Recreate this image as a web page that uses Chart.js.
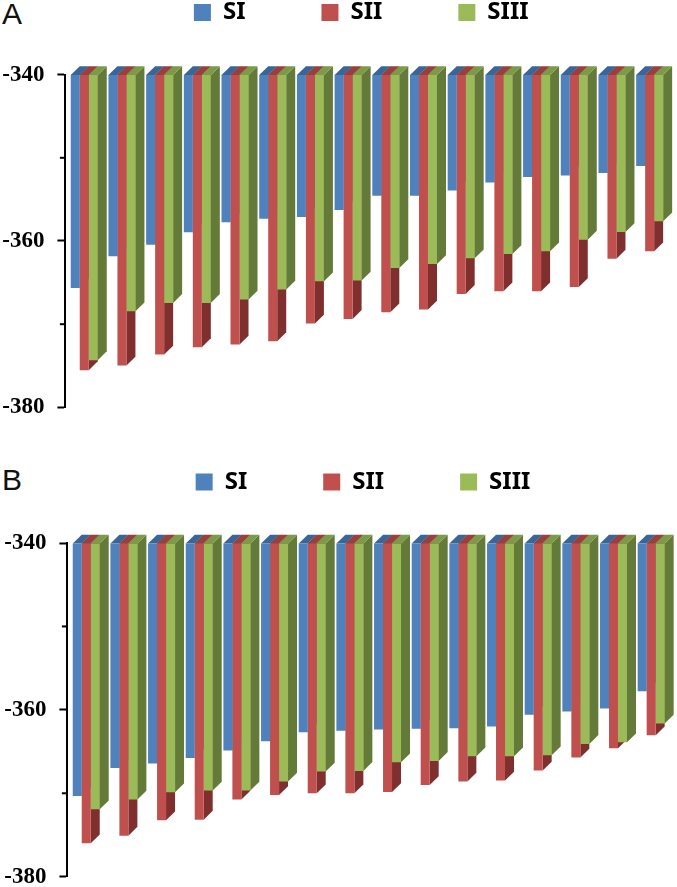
<!DOCTYPE html>
<html>
<head>
<meta charset="utf-8">
<script src="https://cdn.jsdelivr.net/npm/chart.js@4/dist/chart.umd.min.js"></script>
<style>
html,body{margin:0;padding:0;background:#fff;}
#page{position:relative;width:677px;height:887px;overflow:hidden;}
canvas{position:absolute;left:0;}
.tag{position:absolute;left:2px;font:30px/30px "Liberation Sans",sans-serif;color:#111;}
</style>
</head>
<body>
<div id="page">
<div class="tag" style="top:-1px">A</div>
<div class="tag" style="top:465px">B</div>
<canvas id="a" width="677" height="440" style="top:0"></canvas>
<canvas id="b" width="677" height="470" style="top:460px"></canvas>
</div>
<script>
const categories = ["1","2","3","4","5","6","7","8","9","10","11","12","13","14","15","16"];
const seriesNames = ["SI","SII","SIII"];
const tickLabels = [-340,-360,-380];
const minorTicks = [-350,-370];
const baseValue = -340;

const aSI   = [-365.64,-361.84,-360.44,-358.96,-357.76,-357.32,-357.12,-356.28,-354.56,-354.56,-353.92,-352.96,-352.32,-352.12,-351.84,-351.0];
const aSII  = [-375.52,-374.96,-373.64,-372.76,-372.44,-372.04,-369.92,-369.36,-368.56,-368.24,-366.36,-366.04,-366.04,-365.52,-362.12,-361.24];
const aSIII = [-374.32,-368.44,-367.44,-367.44,-367.04,-365.84,-364.84,-364.76,-363.24,-362.76,-362.08,-361.56,-361.24,-359.84,-358.92,-357.64];

const bSI   = [-370.32,-366.96,-366.44,-365.76,-364.88,-363.76,-362.68,-362.52,-362.36,-362.28,-362.2,-362.0,-360.6,-360.2,-359.84,-357.76];
const bSII  = [-376.0,-375.08,-373.24,-373.16,-370.76,-370.2,-370.0,-370.0,-369.84,-369.0,-368.6,-368.48,-367.28,-365.72,-364.6,-363.04];
const bSIII = [-371.92,-370.76,-369.88,-369.68,-369.68,-368.6,-367.4,-367.32,-366.28,-366.12,-365.56,-365.56,-365.44,-364.08,-363.88,-361.64];

const frontColors = ["#4F81BD","#C0504D","#9BBB59"];
const sideColors  = ["#3A6090","#7F2F2D","#647A38"];
const topColors   = ["#3A6597","#99403D","#7C9A47"];
const DX = 9, DY = 8.8;

const depthPlugin = {
  id: "depth",
  beforeDatasetsDraw(chart){
    const ctx = chart.ctx;
    chart.data.datasets.forEach((ds,k)=>{
      const meta = chart.getDatasetMeta(k);
      meta.data.forEach(bar=>{
        const x0 = bar.x - bar.width/2, x1 = bar.x + bar.width/2;
        const yT = bar.base, yB = bar.y;
        ctx.fillStyle = sideColors[k];
        ctx.beginPath();
        ctx.moveTo(x1,yT);ctx.lineTo(x1+DX,yT-DY);ctx.lineTo(x1+DX,yB-DY);ctx.lineTo(x1,yB);
        ctx.closePath();ctx.fill();
        ctx.fillStyle = topColors[k];
        ctx.beginPath();
        ctx.moveTo(x0,yT);ctx.lineTo(x1,yT);ctx.lineTo(x1+DX,yT-DY);ctx.lineTo(x0+DX,yT-DY);
        ctx.closePath();ctx.fill();
      });
    });
  },
  afterDraw(chart){
    const y = chart.scales.y, ctx = chart.ctx;
    ctx.strokeStyle = "#000"; ctx.lineWidth = 2;
    minorTicks.forEach(v=>{
      const p = y.getPixelForValue(v);
      ctx.beginPath();ctx.moveTo(chart.chartArea.left-5.5,p);ctx.lineTo(chart.chartArea.left,p);ctx.stroke();
    });
  }
};

function makeChart(id, s1, s2, s3, L){
  const legendPad = L.pad;
  const legendPlugin = {
    id:"legendPlace",
    beforeLayout(chart){
      const lg = chart.legend;
      if(!lg._fitWrapped){
        const fit = lg.fit;
        lg.fit = function(){ fit.call(this); this.height = L.top; };
        lg._fitWrapped = true;
      }
    },
    afterLayout(chart){
      const lg = chart.legend;
      lg.left += 2*L.shift;
      lg.top = L.boxY - legendPad;
    }
  };
  return new Chart(document.getElementById(id),{
    type:"bar",
    data:{
      labels:categories,
      datasets:[s1,s2,s3].map((v,i)=>({
        label:seriesNames[i], data:v, backgroundColor:frontColors[i], base:baseValue,
        barPercentage:1, categoryPercentage:27/37.7
      }))
    },
    plugins:[depthPlugin,legendPlugin],
    options:{
      responsive:false, animation:false,
      layout:{padding:{left:0,top:0,right:677-L.right,bottom:L.bottom}},
      plugins:{
        tooltip:{enabled:false},
        legend:{display:true,position:"top",
          labels:{boxWidth:17,boxHeight:17,padding:legendPad,color:"#000",
            font:{family:"'Noto Sans'",size:24,weight:"bold"}}}
      },
      scales:{
        x:{display:false},
        y:{min:-380,max:-340,
          afterFit(scale){scale.width=L.left;},
          border:{display:true,color:"#000",width:2},
          grid:{drawOnChartArea:false,drawTicks:true,tickLength:8,tickWidth:2,
            tickColor:c=>tickLabels.includes(c.tick.value)?"#000":"rgba(0,0,0,0)"},
          ticks:{stepSize:20,padding:13,color:"#000",autoSkip:false,
            font:{family:"'Liberation Serif'",size:23,weight:"bold"}}
        }
      }
    }
  });
}

makeChart("a",aSI,aSII,aSIII,{left:65.4,right:668.5,top:74.6,bottom:440-407.4,boxY:0.5,pad:76,shift:27});
makeChart("b",bSI,bSII,bSIII,{left:67.4,right:670,top:83,bottom:470-416.7,boxY:10,pad:76,shift:28});
</script>
</body>
</html>
